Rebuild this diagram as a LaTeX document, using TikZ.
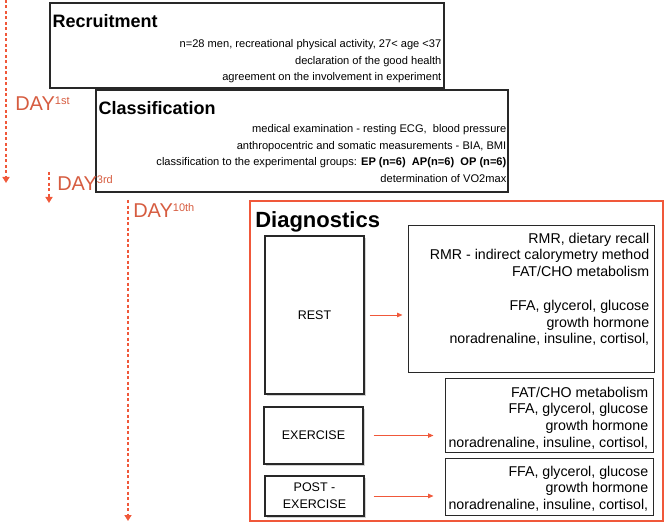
\documentclass[tikz,border=0pt]{standalone}
\usepackage{fontspec}
\setmainfont{Liberation Sans}
\usepackage{tikz}
\usetikzlibrary{arrows,arrows.meta,positioning,shadows,calc}
\definecolor{dayorange}{RGB}{240,88,58}
\definecolor{daytext}{RGB}{214,92,64}
\definecolor{boxgray}{RGB}{40,40,40}
\newcommand{\dayno}[1]{DAY\raisebox{6.5pt}{\fontsize{11}{11}\selectfont #1}}

\begin{document}
\begin{tikzpicture}[x=1pt,y=-1pt,>=Latex,semithick]
  \tikzstyle{stage}=[draw=boxgray,line width=1.3pt,inner sep=0pt]
  \tikzstyle{phase}=[draw=boxgray,line width=1.1pt,fill=white,inner sep=0pt,align=center,
                     font=\fontsize{12.5}{17}\selectfont,
                     drop shadow={shadow xshift=1.5pt,shadow yshift=-1.5pt,opacity=0.35}]
  \tikzstyle{result}=[draw=boxgray,line width=1pt,inner sep=0pt]
  \tikzstyle{title}=[anchor=base west,inner sep=0pt,font=\fontsize{18}{20}\selectfont\bfseries]
  \tikzstyle{info}=[anchor=north east,inner sep=0pt,align=right,font=\fontsize{11.1}{16.5}\selectfont]
  \tikzstyle{finding}=[info,font=\fontsize{14.2}{16.8}\selectfont]
  \tikzstyle{day}=[anchor=base west,inner sep=0pt,text=daytext,font=\fontsize{20}{20}\selectfont]
  \tikzstyle{timeline}=[draw=dayorange,line width=1.6pt,dash pattern=on 3pt off 2.5pt,
                        -{Triangle[length=6pt,width=7pt]}]
  \tikzstyle{feed}=[draw=dayorange,line width=0.9pt,-{Triangle[length=5.5pt,width=4.5pt]}]

  \useasboundingbox (0,0) rectangle (667,524);

  % recruitment and classification
  \node[stage,minimum width=394pt,minimum height=85pt]	(rec)	at (247,45.5)	{};
  \node[title]	(rectitle)	at ($(rec.north west)+(3,25)$)	{Recruitment};
  \node[info]	(recinfo)	at ($(rec.north east)+(-3,37)$)
	{n=28 men, recreational physical activity, 27< age <37\\
	 declaration of the good health\\
	 agreement on the involvement in experiment};

  \node[stage,minimum width=412pt,minimum height=102pt]	(cla)	at (302,141)	{};
  \node[title]	(clatitle)	at ($(cla.north west)+(3,25)$)	{Classification};
  \node[info]	(clainfo)	at ($(cla.north east)+(-2,35)$)
	{medical examination - resting ECG,\ \ blood pressure\\
	 anthropocentric and somatic measurements - BIA, BMI\\
	 classification to the experimental groups: \textbf{EP (n=6)\ \ AP(n=6)\ \ OP (n=6)}\\
	 determination of VO2max};

  % diagnostics
  \node[draw=dayorange,line width=2pt,inner sep=0pt,minimum width=413pt,minimum height=320pt]
		(diag)	at (456.5,361)	{};
  \node[title,font=\fontsize{22}{24}\selectfont\bfseries]	(diagtitle)	at ($(diag.north west)+(6,27)$)	{Diagnostics};

  \node[phase,minimum width=99pt,minimum height=158pt]	(rest)	at (314.5,315)	{REST};
  \node[phase,minimum width=99pt,minimum height=57pt]	(ex)	at (313.5,435.5)	{EXERCISE};
  \node[phase,minimum width=99pt,minimum height=40pt]	(post)	at (314.5,496)	{POST -\\EXERCISE};

  \node[result,minimum width=246pt,minimum height=147pt]	(restinfo)	at (531,298.5)	{};
  \node[result,minimum width=208pt,minimum height=74pt]	(exinfo)	at (549,415)	{};
  \node[result,minimum width=208pt,minimum height=57pt]	(postinfo)	at (549,486.5)	{};

  \node[finding]	(resttext)	at ($(restinfo.north east)+(-5,8)$)
	{RMR, dietary recall\\
	 RMR - indirect calorymetry method\\
	 FAT/CHO metabolism\\[16.8pt]
	 FFA, glycerol, glucose\\
	 growth hormone\\
	 noradrenaline, insuline, cortisol,};
  \node[finding]	(extext)	at ($(exinfo.north east)+(-5,9)$)
	{FAT/CHO metabolism\\
	 FFA, glycerol, glucose\\
	 growth hormone\\
	 noradrenaline, insuline, cortisol,};
  \node[finding]	(posttext)	at ($(postinfo.north east)+(-5,8)$)
	{FFA, glycerol, glucose\\
	 growth hormone\\
	 noradrenaline, insuline, cortisol,};

  \draw[feed] ($(rest.east)+(5,0)$) -- ($(rest.east -| restinfo.west)+(-5,0)$);
  \draw[feed] ($(ex.east)+(10,0)$) -- ($(ex.east -| exinfo.west)+(-11,0)$);
  \draw[feed] ($(post.east)+(9,0)$) -- ($(post.east -| postinfo.west)+(-11,0)$);

  % time line
  \node[day]	(day1)	at (15,111)	{\dayno{1st}};
  \node[day]	(day3)	at (57,190)	{\dayno{3rd}};
  \node[day]	(day10)	at (133,218)	{\dayno{10th}};

  \coordinate (t1a) at (6,0);	\coordinate (t1b) at (6,183);
  \coordinate (t3a) at (49,172);	\coordinate (t3b) at (49,203);
  \coordinate (t10a) at (128,200);	\coordinate (t10b) at (128,521);
  \draw[timeline] (t1a) -- (t1b);
  \draw[timeline] (t3a) -- (t3b);
  \draw[timeline] (t10a) -- (t10b);
\end{tikzpicture}
\end{document}
